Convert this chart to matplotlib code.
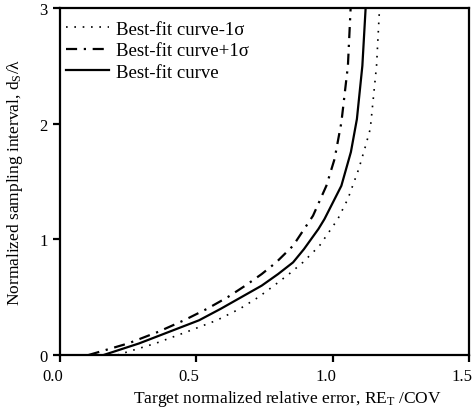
import matplotlib
matplotlib.use("Agg")
import matplotlib.pyplot as plt
import matplotlib.transforms as mtransforms

plt.rcParams['font.family'] = ['Liberation Serif', 'DejaVu Serif']
plt.rcParams['mathtext.fontset'] = 'custom'
plt.rcParams['mathtext.rm'] = 'Liberation Serif'
plt.rcParams['mathtext.it'] = 'Liberation Serif:italic'

# curves (x = target error, y = sampling interval)
x_minus = [0.21, 0.35, 0.465, 0.575, 0.66, 0.728, 0.785, 0.84, 0.891, 0.952, 1.019, 1.056, 1.096, 1.121, 1.138, 1.161, 1.172]
y_minus = [0.0, 0.1, 0.2, 0.3, 0.4, 0.5, 0.6, 0.7, 0.801, 0.945, 1.175, 1.35, 1.61, 1.81, 1.955, 2.5, 3.0]

x_plus = [0.105, 0.25, 0.36, 0.455, 0.54, 0.615, 0.68, 0.74, 0.793, 0.855, 0.928, 0.977, 1.007, 1.032, 1.056, 1.066]
y_plus = [0.0, 0.1, 0.2, 0.3, 0.4, 0.5, 0.6, 0.7, 0.801, 0.945, 1.204, 1.463, 1.694, 2.01, 2.5, 3.0]

x_best = [0.16, 0.29, 0.40, 0.51, 0.59, 0.665, 0.74, 0.80, 0.855, 0.895, 0.948, 0.97, 1.032, 1.067, 1.089, 1.109, 1.121]
y_best = [0.0, 0.1, 0.2, 0.3, 0.4, 0.5, 0.6, 0.7, 0.801, 0.916, 1.09, 1.175, 1.463, 1.755, 2.04, 2.5, 3.0]

fig = plt.figure(figsize=(4.72, 4.10), dpi=100)
ax = fig.add_axes([0.127, 0.1317, 0.8666, 0.8463])

ax.plot(x_minus, y_minus, color='black', lw=1.2, linestyle=(0, (1, 4)), label='Best-fit curve-1σ')
ax.plot(x_plus, y_plus, color='black', lw=1.6, linestyle=(0, (5, 3, 1, 3)), label='Best-fit curve+1σ')
ax.plot(x_best, y_best, color='black', lw=1.6, label='Best-fit curve')

ax.set_xlim(0, 1.5)
ax.set_ylim(0, 3)
ax.set_xticks([0, 0.5, 1.0, 1.5])
ax.set_xticklabels(['0.0', '0.5', '1.0', '1.5'])
ax.set_yticks([0, 1, 2, 3])
for s in ax.spines.values():
    s.set_linewidth(1.6)
ax.tick_params(direction='out', length=5, width=1.6, labelsize=12, pad=4)

# x tick labels sit a little left of their ticks in the original
shift = mtransforms.ScaledTranslation(-7 / 100, 0, fig.dpi_scale_trans)
for lab in ax.get_xticklabels():
    lab.set_transform(lab.get_transform() + shift)

ax.set_xlabel('Target normalized relative error, RE$_\\mathrm{T}$ /COV', fontsize=12.5,
              labelpad=3, x=0.557)
ax.set_ylabel('Normalized sampling interval, d$_\\mathrm{S}$/λ', fontsize=12.5, labelpad=10)

ax.legend(loc='upper left', bbox_to_anchor=(0, 0.98), frameon=False, fontsize=13.5,
          handlelength=2.3, handletextpad=0.37, borderaxespad=0, borderpad=0.3,
          labelspacing=0.24)

fig.savefig('out.png', dpi=100)
